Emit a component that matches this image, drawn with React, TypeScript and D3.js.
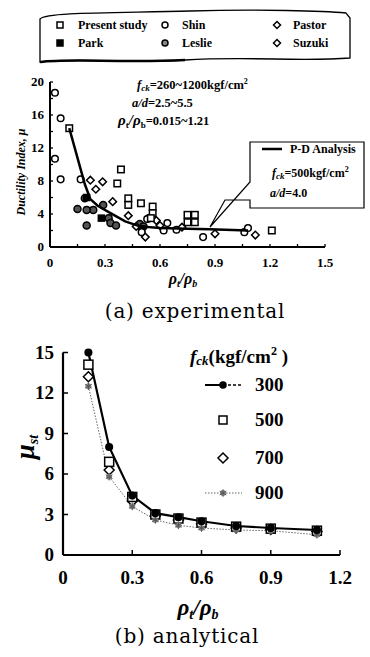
import React from 'react';
import * as d3 from 'd3';

// (a) experimental data, [rho_t/rho_b, mu]
const presentStudy: [number, number][] = [
  [0.105, 14.4], [0.387, 9.4], [0.367, 7.7], [0.427, 5.9], [0.427, 5.1], [0.496, 5.3],
  [0.56, 4.9], [0.56, 4.1], [0.55, 3.5], [0.75, 3.9], [0.79, 3.9], [0.75, 3.0], [0.79, 3.0], [1.21, 2.0],
];
const shin: [number, number][] = [
  [0.027, 18.7], [0.058, 15.6], [0.027, 10.7], [0.058, 8.2], [0.167, 8.2], [0.62, 2.0],
  [0.64, 2.9], [0.69, 2.1], [0.835, 1.2], [1.06, 1.8], [1.08, 2.3], [0.53, 3.4], [0.5, 1.8],
];
const pastor: [number, number][] = [
  [0.22, 8.1], [0.287, 7.9], [0.342, 5.5], [0.427, 3.8], [0.52, 1.2], [1.12, 1.45],
];
const suzuki: [number, number][] = [
  [0.25, 7.0], [0.47, 2.5], [0.58, 3.2], [0.72, 2.4], [0.9, 1.6], [0.6, 2.6],
];
const park: [number, number][] = [[0.2, 6.0], [0.28, 3.5], [0.5, 2.2]];
const leslie: [number, number][] = [
  [0.15, 4.6], [0.19, 5.9], [0.2, 2.6], [0.236, 4.5], [0.29, 5.1], [0.32, 3.5], [0.33, 2.9],
  [0.49, 2.8], [0.51, 2.5], [0.54, 3.5], [0.2, 4.5], [0.36, 2.6],
];
const pdAnalysis: [number, number][] = [
  [0.105, 14.4], [0.19, 7.6], [0.22, 5.8], [0.26, 5.0], [0.33, 4.1], [0.41, 3.1],
  [0.49, 2.5], [0.6, 2.3], [0.75, 2.2], [0.87, 2.15], [1.08, 2.0],
];

// (b) analytical data
const rhoB = [0.11, 0.2, 0.3, 0.4, 0.5, 0.6, 0.75, 0.9, 1.1];
const mu300 = [15.0, 8.0, 4.4, 3.1, 2.8, 2.5, 2.15, 2.0, 1.85];
const mu500 = [14.1, 6.9, 4.3, 3.0, 2.7, 2.4, 2.1, 1.95, 1.8];
const mu700 = [13.2, 6.3, 4.0, 2.9, 2.6, 2.3, 2.0, 1.9, 1.75];
const mu900 = [12.5, 5.8, 3.6, 2.6, 2.2, 2.0, 1.85, 1.8, 1.5];

const xTicksA = [0, 0.3, 0.6, 0.9, 1.2, 1.5];
const yTicksA = [0, 4, 8, 12, 16, 20];
const xTicksB = [0, 0.3, 0.6, 0.9, 1.2];
const yTicksB = [0, 3, 6, 9, 12, 15];

const serif = '"Liberation Serif", "Times New Roman", serif';

const xA = d3.scaleLinear().domain([0, 1.5]).range([50, 325]);
const yA = d3.scaleLinear().domain([0, 20]).range([247, 82]);
const xB = d3.scaleLinear().domain([0, 1.2]).range([63, 340]);
const yB = d3.scaleLinear().domain([0, 15]).range([555, 352.5]);

const sq = (x: number, y: number, s: number, fill: string, key?: any) => (
  <rect key={key} x={x - s / 2} y={y - s / 2} width={s} height={s} fill={fill} stroke="#000" strokeWidth={1.5} />
);
const dia = (x: number, y: number, s: number, key?: any) => (
  <path key={key} d={`M${x},${y - s} L${x + s},${y} L${x},${y + s} L${x - s},${y} Z`} fill="#fff" stroke="#000" strokeWidth={1.5} />
);
const circ = (x: number, y: number, r: number, fill: string, key?: any) => (
  <circle key={key} cx={x} cy={y} r={r} fill={fill} stroke="#000" strokeWidth={1.5} />
);
const star = (x: number, y: number, key?: any) => (
  <g key={key}>
    <circle cx={x} cy={y} r={3} fill="#888" />
    <path d={d3.symbol(d3.symbolAsterisk, 40)() || ''} transform={`translate(${x},${y})`} stroke="#555" strokeWidth={1} fill="none" />
  </g>
);

const PlotA = () => {
  const line = d3.line<[number, number]>().x(d => xA(d[0])).y(d => yA(d[1]));
  const minorX = d3.range(0, 1.51, 0.15);
  const minorY = d3.range(0, 20.1, 2);
  return (
    <g>
      {/* legend box */}
      <path d="M40,19 C46,12 110,13 190,11 C260,9 325,11 346,13 L350,18 L350,58 C300,62 250,56 185,60 C120,63 70,58 40,62 Z"
        fill="#fff" stroke="#000" strokeWidth={1.3} />
      <path d="M40,62 C70,58 120,63 185,60" fill="none" stroke="#000" strokeWidth={2.5} />
      <g fontFamily={serif} fontWeight="bold" fontSize={12}>
        {sq(60, 25, 6, '#fff')}
        <text x={78} y={29}>Present study</text>
        {sq(60, 43, 6, '#000')}
        <text x={78} y={47}>Park</text>
        {circ(165, 25, 3, '#fff')}
        <text x={182} y={29}>Shin</text>
        {circ(165, 43, 3, '#888')}
        <text x={182} y={47}>Leslie</text>
        {dia(277, 25, 3.5)}
        <text x={293} y={29}>Pastor</text>
        {dia(277, 43, 3.5)}
        <text x={293} y={47}>Suzuki</text>
      </g>

      {/* axes */}
      <line x1={xA(0)} x2={xA(1.5)} y1={yA(0)} y2={yA(0)} stroke="#000" strokeWidth={2} />
      <line x1={xA(0)} x2={xA(0)} y1={yA(0)} y2={yA(20)} stroke="#000" strokeWidth={2} />
      {minorX.map((t, i) => (
        <line key={'tx' + i} x1={xA(t)} x2={xA(t)} y1={yA(0)} y2={yA(0) - 3} stroke="#000" strokeWidth={1.3} />
      ))}
      {minorY.map((t, i) => (
        <line key={'ty' + i} x1={xA(0)} x2={xA(0) + 3} y1={yA(t)} y2={yA(t)} stroke="#000" strokeWidth={1.3} />
      ))}
      <g fontFamily={serif} fontWeight="bold" fontSize={13}>
        {xTicksA.map(t => (
          <text key={'lx' + t} x={xA(t)} y={267} textAnchor="middle">{t === 0 ? '0' : t.toFixed(1)}</text>
        ))}
        {yTicksA.map(t => (
          <text key={'ly' + t} x={44} y={yA(t) + 4} textAnchor="end">{t}</text>
        ))}
      </g>
      <text transform="translate(25,172) rotate(-90)" textAnchor="middle" fontFamily={serif} fontWeight="bold" fontStyle="italic" fontSize={12}>
        Ductility Index, μ
      </text>
      <text x={183} y={284} textAnchor="middle" fontFamily={serif} fontStyle="italic" fontWeight="bold" fontSize={16}>
        ρ<tspan fontSize={10} dy={3}>t</tspan><tspan dy={-3}>/ρ</tspan><tspan fontSize={10} dy={3}>b</tspan>
      </text>

      {/* annotation */}
      <g fontFamily={serif} fontWeight="bold" fontSize={12.5}>
        <text x={137} y={89}>
          <tspan fontStyle="italic">f</tspan><tspan fontStyle="italic" fontSize={9} dy={2}>ck</tspan>
          <tspan dy={-2}>=260~1200kgf/cm</tspan><tspan fontSize={8} dy={-5}>2</tspan>
        </text>
        <text x={132} y={107}><tspan fontStyle="italic">a/d</tspan>=2.5~5.5</text>
        <text x={118} y={125}>
          <tspan fontStyle="italic" fontSize={15}>ρ</tspan><tspan fontSize={9} dy={3}>t</tspan>
          <tspan dy={-3} fontStyle="italic" fontSize={15}>/ρ</tspan><tspan fontSize={9} dy={3}>b</tspan>
          <tspan dy={-3}>=0.015~1.21</tspan>
        </text>
      </g>

      {/* callout box */}
      <path d="M250,142 L364,142 L364,208 L250,208 L250,200 L225,200 L210,227 L250,182 Z" fill="#fff" stroke="#000" strokeWidth={1.2} />
      <line x1={262} x2={282} y1={149} y2={149} stroke="#000" strokeWidth={2.5} />
      <g fontFamily={serif} fontWeight="bold" fontSize={12}>
        <text x={290} y={153}>P-D Analysis</text>
        <text x={272} y={177}>
          <tspan fontStyle="italic">f</tspan><tspan fontStyle="italic" fontSize={9} dy={2}>ck</tspan>
          <tspan dy={-2}>=500kgf/cm</tspan><tspan fontSize={8} dy={-5}>2</tspan>
        </text>
        <text x={270} y={197}><tspan fontStyle="italic">a/d</tspan>=4.0</text>
      </g>

      {/* data */}
      {leslie.map((d, i) => circ(xA(d[0]), yA(d[1]), 3.5, '#555', 'le' + i))}
      {park.map((d, i) => sq(xA(d[0]), yA(d[1]), 6, '#000', 'pk' + i))}
      {shin.map((d, i) => circ(xA(d[0]), yA(d[1]), 3.3, '#fff', 'sh' + i))}
      {pastor.map((d, i) => dia(xA(d[0]), yA(d[1]), 3.8, 'pa' + i))}
      {suzuki.map((d, i) => dia(xA(d[0]), yA(d[1]), 3.8, 'su' + i))}
      {presentStudy.map((d, i) => sq(xA(d[0]), yA(d[1]), 6.5, '#fff', 'ps' + i))}
      <path d={line(pdAnalysis) || ''} fill="none" stroke="#000" strokeWidth={2.5} />

      <text x={195} y={318} textAnchor="middle" fontFamily='"DejaVu Serif", serif' fontSize={20} letterSpacing={0.8}>(a) experimental</text>
    </g>
  );
};

const PlotB = () => {
  const line = d3.line<number>().x((_, i) => xB(rhoB[i])).y(d => yB(d));
  return (
    <g>
      <line x1={xB(0)} x2={xB(1.2)} y1={yB(0)} y2={yB(0)} stroke="#000" strokeWidth={2.2} />
      <line x1={xB(0)} x2={xB(0)} y1={yB(0)} y2={yB(15)} stroke="#000" strokeWidth={2.2} />
      {xTicksB.map(t => (
        <line key={'tx' + t} x1={xB(t)} x2={xB(t)} y1={yB(0)} y2={yB(0) - 5} stroke="#000" strokeWidth={1.5} />
      ))}
      {yTicksB.map(t => (
        <line key={'ty' + t} x1={xB(0)} x2={xB(0) + 5} y1={yB(t)} y2={yB(t)} stroke="#000" strokeWidth={1.5} />
      ))}
      <g fontFamily={serif} fontWeight="bold" fontSize={19}>
        {xTicksB.map(t => (
          <text key={'lx' + t} x={xB(t)} y={584} textAnchor="middle">{t === 0 ? '0' : t.toFixed(1)}</text>
        ))}
        {yTicksB.map(t => (
          <text key={'ly' + t} x={54} y={yB(t) + 6} textAnchor="end">{t}</text>
        ))}
      </g>
      <text transform="translate(34,447) rotate(-90)" textAnchor="middle" fontFamily={serif} fontWeight="bold" fontStyle="italic" fontSize={27}>
        μ<tspan fontSize={14} dy={4}>st</tspan>
      </text>
      <text x={198} y={615} textAnchor="middle" fontFamily={serif} fontStyle="italic" fontWeight="bold" fontSize={23}>
        ρ<tspan fontSize={14} dy={4}>t</tspan><tspan dy={-4}>/ρ</tspan><tspan fontSize={14} dy={4}>b</tspan>
      </text>

      {/* series */}
      <path d={line(mu900) || ''} fill="none" stroke="#666" strokeWidth={1} strokeDasharray="1.5 1.5" />
      <path d={line(mu300) || ''} fill="none" stroke="#000" strokeWidth={2.2} />
      {mu700.map((d, i) => dia(xB(rhoB[i]), yB(d), 5, 'd7' + i))}
      {mu500.map((d, i) => sq(xB(rhoB[i]), yB(d), 9, '#fff', 's5' + i))}
      {mu900.map((d, i) => star(xB(rhoB[i]), yB(d), 's9' + i))}
      {mu300.map((d, i) => circ(xB(rhoB[i]), yB(d), 3.3, '#000', 'c3' + i))}

      {/* legend */}
      <g fontFamily={serif} fontWeight="bold" fontSize={19}>
        <text x={190} y={363}>
          <tspan fontStyle="italic">f</tspan><tspan fontStyle="italic" fontSize={13} dy={2}>ck</tspan>
          <tspan dy={-2}>(kgf/cm</tspan><tspan fontSize={12} dy={-8}>2</tspan><tspan dy={8}> )</tspan>
        </text>
        <line x1={205} x2={223} y1={385} y2={385} stroke="#000" strokeWidth={2} />
        <line x1={223} x2={242} y1={385} y2={385} stroke="#000" strokeWidth={1.3} strokeDasharray="3 2" />
        {circ(223, 385, 3, '#000')}
        <text x={255} y={391}>300</text>
        {sq(223, 420, 8, '#fff')}
        <text x={255} y={426}>500</text>
        {dia(223, 458, 5)}
        <text x={255} y={464}>700</text>
        <line x1={205} x2={242} y1={493} y2={493} stroke="#666" strokeWidth={1} strokeDasharray="1.5 1.5" />
        {star(223, 493)}
        <text x={255} y={499}>900</text>
      </g>

      <text x={187} y={643} textAnchor="middle" fontFamily='"DejaVu Serif", serif' fontSize={20} letterSpacing={0.8}>(b) analytical</text>
    </g>
  );
};

export default function App() {
  return (
    <svg width={370} height={657} viewBox="0 0 370 657" style={{ position: 'absolute', left: 0, top: 0, background: '#fff' }}>
      <PlotA />
      <PlotB />
    </svg>
  );
}
